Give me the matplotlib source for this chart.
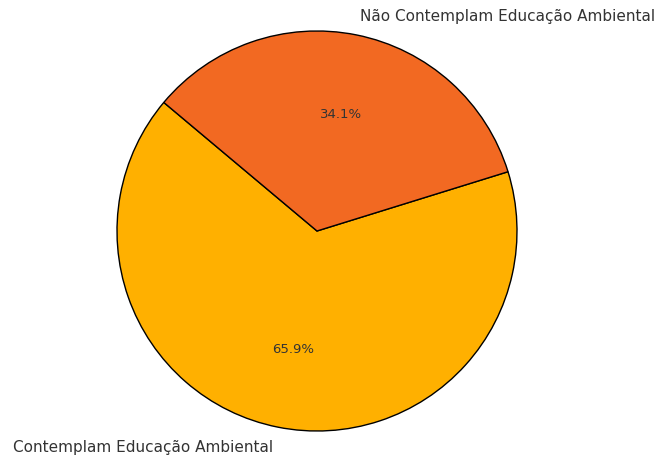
import matplotlib
matplotlib.use("Agg")
import matplotlib.pyplot as plt

labels = ["Contemplam Educação Ambiental", "Não Contemplam Educação Ambiental"]
values = [65.9, 34.1]
colors = ["#FFB000", "#F26922"]

fig = plt.figure(figsize=(6.62, 4.6), dpi=100)
ax = fig.add_axes([0, 0, 1, 1])
wedges, texts, autotexts = ax.pie(
    values, labels=labels, colors=colors, autopct="%1.1f%%", startangle=140,
    wedgeprops=dict(edgecolor="black", linewidth=1.0),
    textprops=dict(color="#333333"),
)
for t in texts:
    t.set_fontsize(11)
for t in autotexts:
    t.set_fontsize(9.5)
ax.set_xlim(-317 / 200, 345 / 200)
ax.set_ylim(-228 / 200, 232 / 200)
ax.set_aspect("auto")
ax.axis("off")
fig.savefig("out.png", dpi=100)
